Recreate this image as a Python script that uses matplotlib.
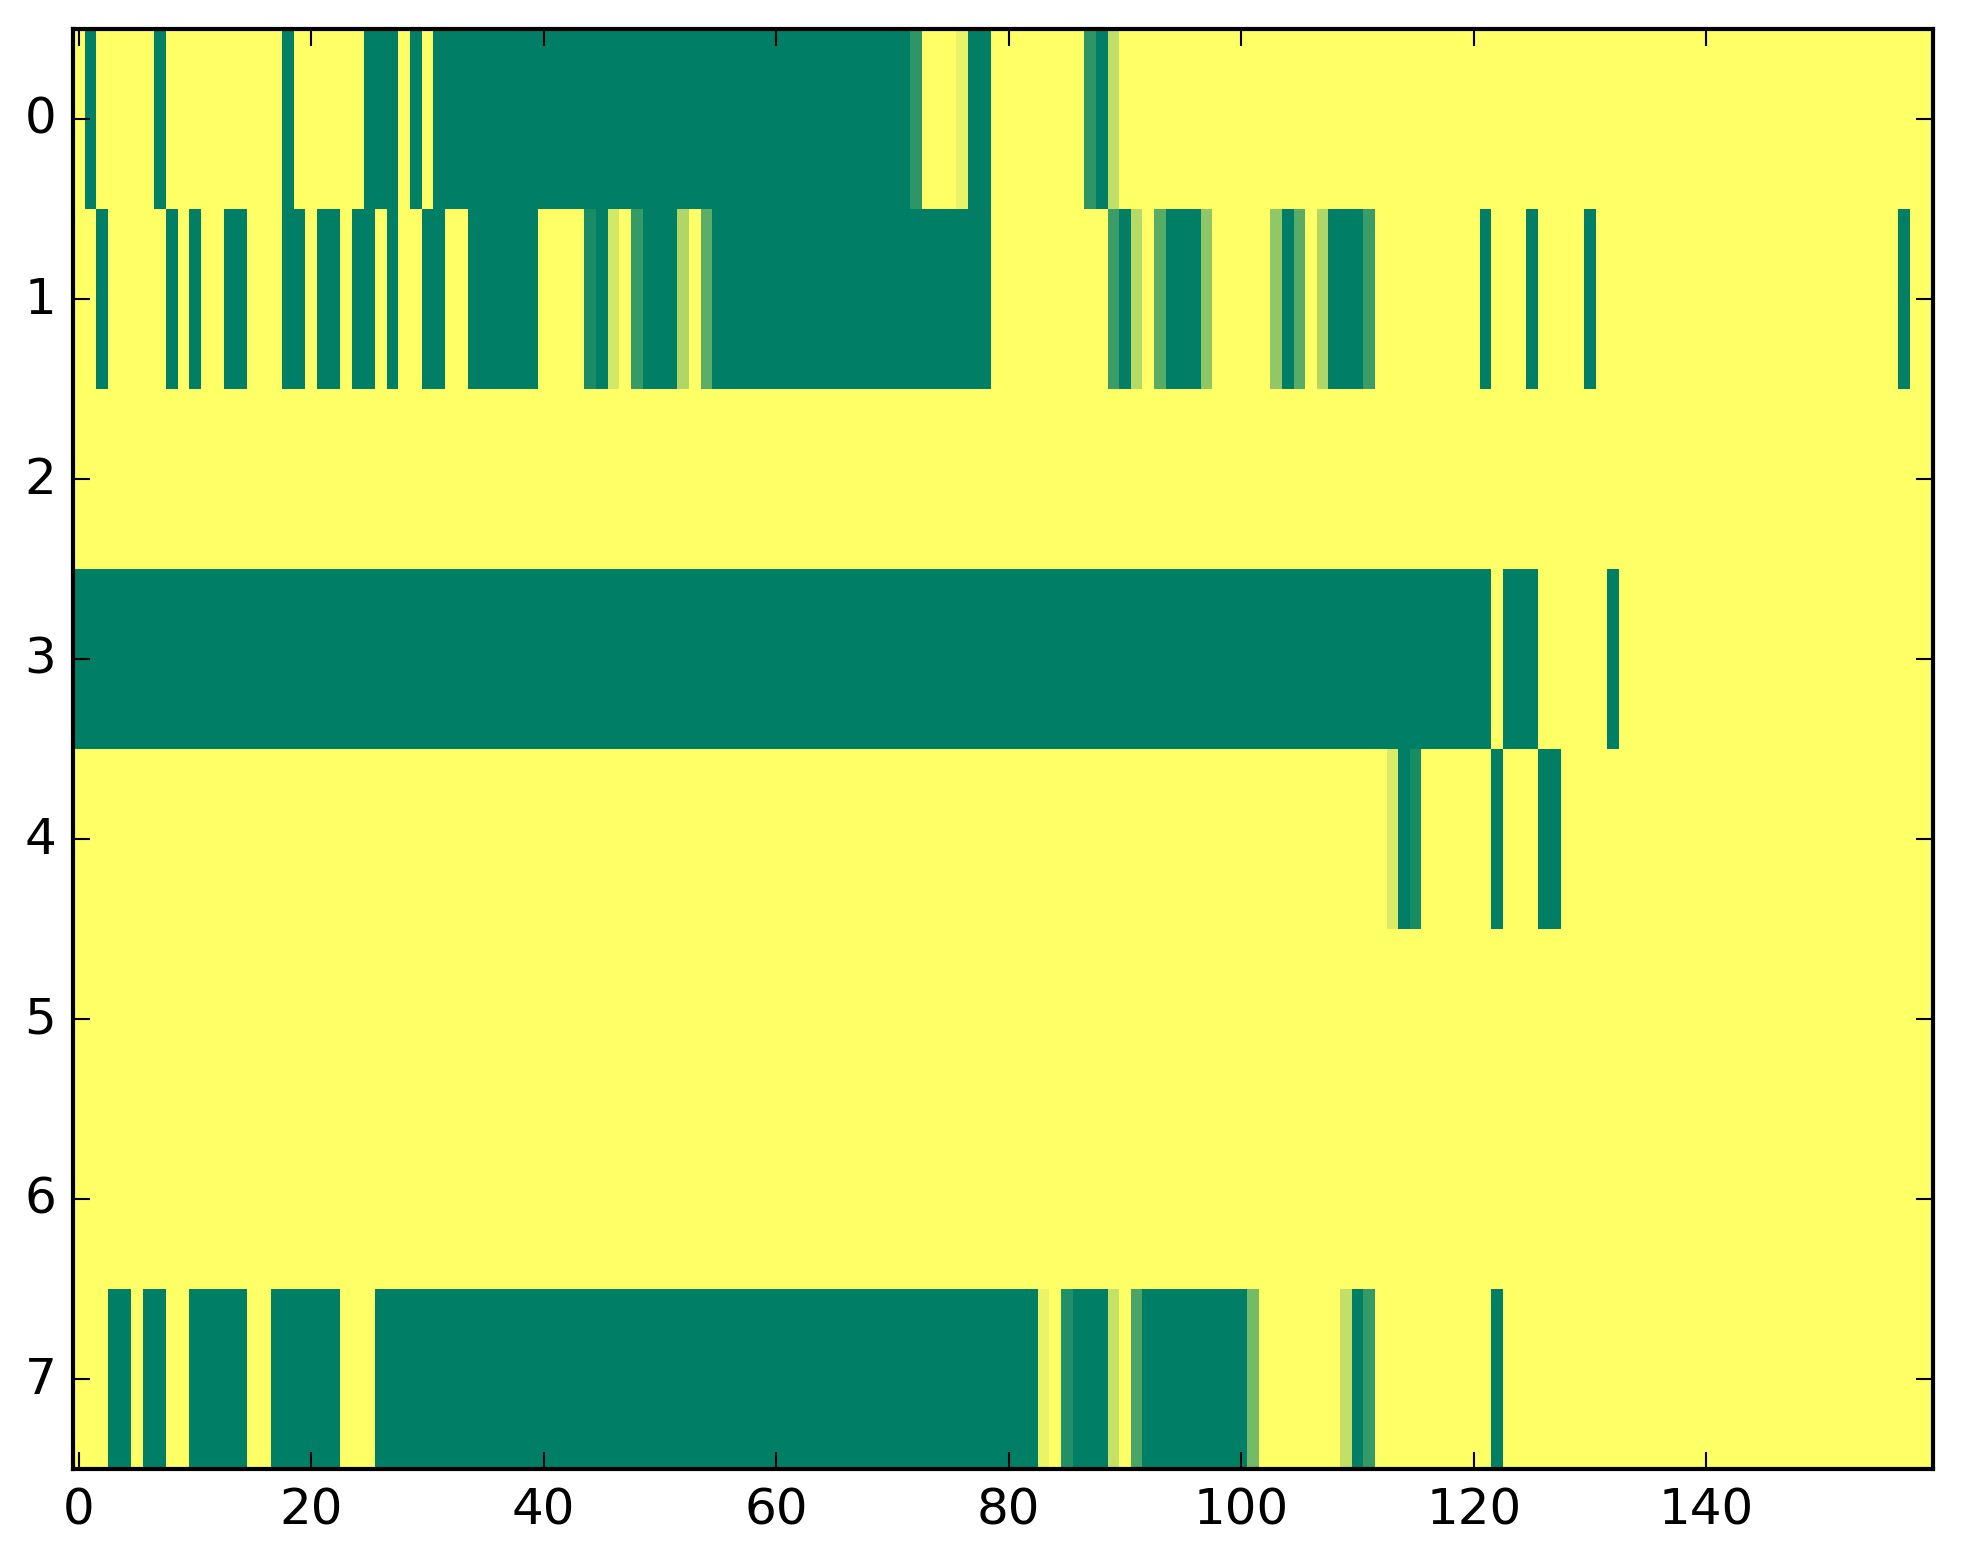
import numpy as np
import matplotlib
matplotlib.use("Agg")
import matplotlib.pyplot as plt

# Run-length encoded rows: (value, count)
row0 = [(1, 1), (0, 1), (1, 5), (0, 1), (1, 10), (0, 1), (1, 6), (0, 3), (1, 1), (0, 1),
        (1, 1), (0, 41), (0.18, 1), (1, 3), (0.91, 1), (0, 2), (1, 8), (0.18, 1), (0, 1),
        (0.75, 1), (1, 70)]
row1 = [(1, 2), (0, 1), (1, 5), (0, 1), (1, 1), (0, 1), (1, 2), (0, 2), (1, 3), (0, 2),
        (1, 1), (0, 2), (1, 1), (0, 2), (1, 1), (0, 1), (1, 2), (0, 2), (1, 2), (0, 6),
        (1, 4), (0.10, 1), (0, 1), (0.83, 1), (1, 1), (0.21, 1), (0, 3), (0.69, 1), (1, 1),
        (0.36, 1), (0, 24), (1, 10), (0.23, 1), (0, 1), (0.71, 1), (1, 1), (0.35, 1), (0, 3),
        (0.56, 1), (1, 5), (0.57, 1), (0, 1), (0.35, 1), (1, 1), (0.69, 1), (0, 3), (0.23, 1),
        (1, 9), (0, 1), (1, 3), (0, 1), (1, 4), (0, 1), (1, 26), (0, 1), (1, 2)]
row2 = [(1, 160)]
row3 = [(0, 122), (1, 1), (0, 3), (1, 6), (0, 1), (1, 27)]
row4 = [(1, 113), (0.85, 1), (0, 1), (0.10, 1), (1, 6), (0, 1), (1, 3), (0, 2), (1, 32)]
row5 = [(1, 160)]
row6 = [(1, 160)]
row7 = [(1, 3), (0, 2), (1, 1), (0, 2), (1, 2), (0, 5), (1, 2), (0, 6), (1, 3), (0, 57),
        (0.92, 1), (1, 1), (0.13, 1), (0, 3), (0.77, 1), (1, 1), (0.29, 1), (0, 9), (0.46, 1),
        (1, 7), (0.76, 1), (0, 1), (0.21, 1), (1, 10), (0, 1), (1, 37)]

rows = [row0, row1, row2, row3, row4, row5, row6, row7]


def expand(runs):
    out = []
    for v, n in runs:
        out.extend([v] * n)
    return out


data = np.array([expand(r) for r in rows], dtype=float)

plt.style.use("classic")
W, H, DPI = 1963, 1564, 300
fig = plt.figure(figsize=(W / DPI, H / DPI), dpi=DPI, facecolor="white")
ax = fig.add_axes([73 / W, (H - 1470) / H, 1860 / W, 1440 / H])
ax.imshow(data, cmap="summer", aspect="auto", interpolation="nearest", vmin=0, vmax=1)
ax.set_xticks(np.arange(0, 160, 20))
ax.set_yticks(np.arange(0, 8))
fig.savefig("out.png", dpi=DPI, facecolor="white")
